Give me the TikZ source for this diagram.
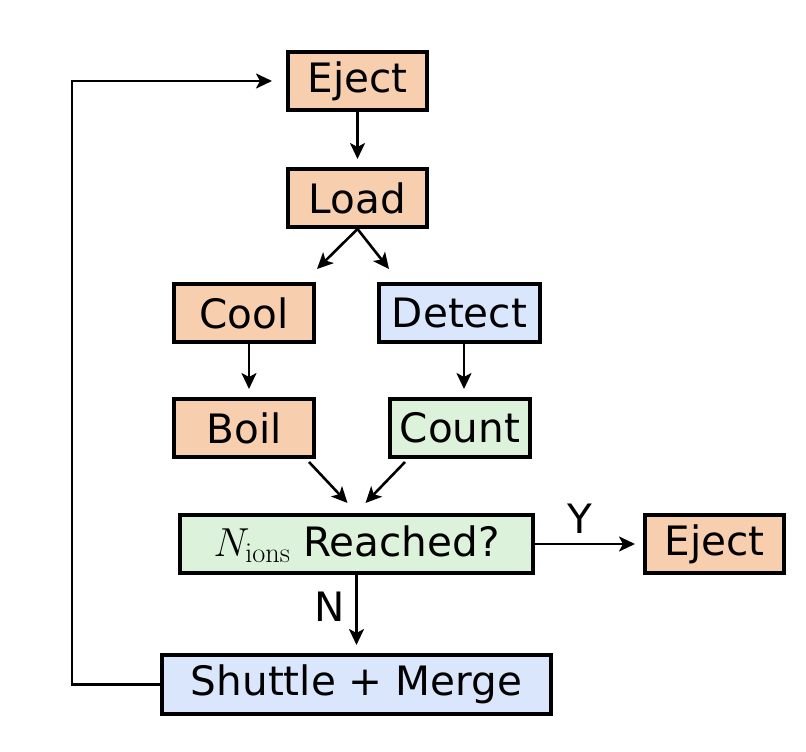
\RequirePackage{fix-cm}
\documentclass[tikz,border=0pt]{standalone}
\usepackage[no-math]{fontspec}
\setmainfont{DejaVu Sans}
\usetikzlibrary{arrows.meta,calc}
\definecolor{orng}{HTML}{F8CFAE}
\definecolor{blu}{HTML}{DAE6FC}
\definecolor{grn}{HTML}{DDF2DA}
\begin{document}
\begin{tikzpicture}[x=1pt,y=-1pt,
  box/.style={draw, line width=3.8pt, inner sep=0pt, minimum height=58.2pt, anchor=center, font=\fontsize{40.5}{48}\selectfont},
  arr/.style={line width=2.6pt, -{Stealth[length=16pt,width=15pt,inset=4pt]}, shorten >=8pt},
  lbl/.style={font=\fontsize{40.5}{48}\selectfont, inner sep=0pt}]
\useasboundingbox (0,0) rectangle (806,752);
\node[box, fill=orng, minimum width=139.2pt] (ej1) at (357.5,81) {Eject};
\node[box, fill=orng, minimum width=139.2pt] (load) at (357.5,198) {Load};
\node[box, fill=orng, minimum width=140.2pt] (cool) at (244,313) {Cool};
\node[box, fill=blu, minimum width=161.2pt] (detect) at (459.5,313) {Detect};
\node[box, fill=orng, minimum width=140.2pt] (boil) at (244,428) {Boil};
\node[box, fill=grn, minimum width=140.2pt] (count) at (460,428) {Count};
\node[box, fill=grn, minimum width=353.2pt] (nr) at (356.5,544) {$N_{\mathrm{ions}}$ Reached?};
\node[box, fill=orng, minimum width=139.2pt] (ej2) at (714.5,544) {Eject};
\node[box, fill=blu, minimum width=389.2pt, minimum height=59.2pt] (sh) at (356.5,684.5) {Shuttle + Merge};

\draw[arr] (ej1.south) -- (load.north);
\draw[arr, shorten >=0pt] (load.south) -- ($(cool.north east)+(1,-13)$);
\draw[arr, shorten >=0pt] (load.south) -- ($(detect.north west)+(12,-13)$);
\draw[arr] (cool.south -| 249,0) -- (boil.north -| 249,0);
\draw[arr] (detect.south -| 464,0) -- (count.north -| 464,0);
\draw[arr, shorten >=0pt] ($(boil.south east)+(-7,3)$) -- ($(nr.north)+(-9,-10)$);
\draw[arr, shorten >=0pt] ($(count.south west)+(17,3)$) -- ($(nr.north)+(9,-10)$);
\draw[arr] (nr.east) -- (ej2.west);
\draw[arr] (nr.south) -- (sh.north);
\coordinate (c1) at (72,686);
\coordinate (c2) at (72,80);
\draw[arr, shorten >=14pt] (sh.west) -- (sh.west -| c1) -- (ej1.west -| c2) -- (ej1.west);
\node[lbl] (y) at (580,519) {Y};
\node[lbl] (n) at (330,607) {N};
\end{tikzpicture}
\end{document}
